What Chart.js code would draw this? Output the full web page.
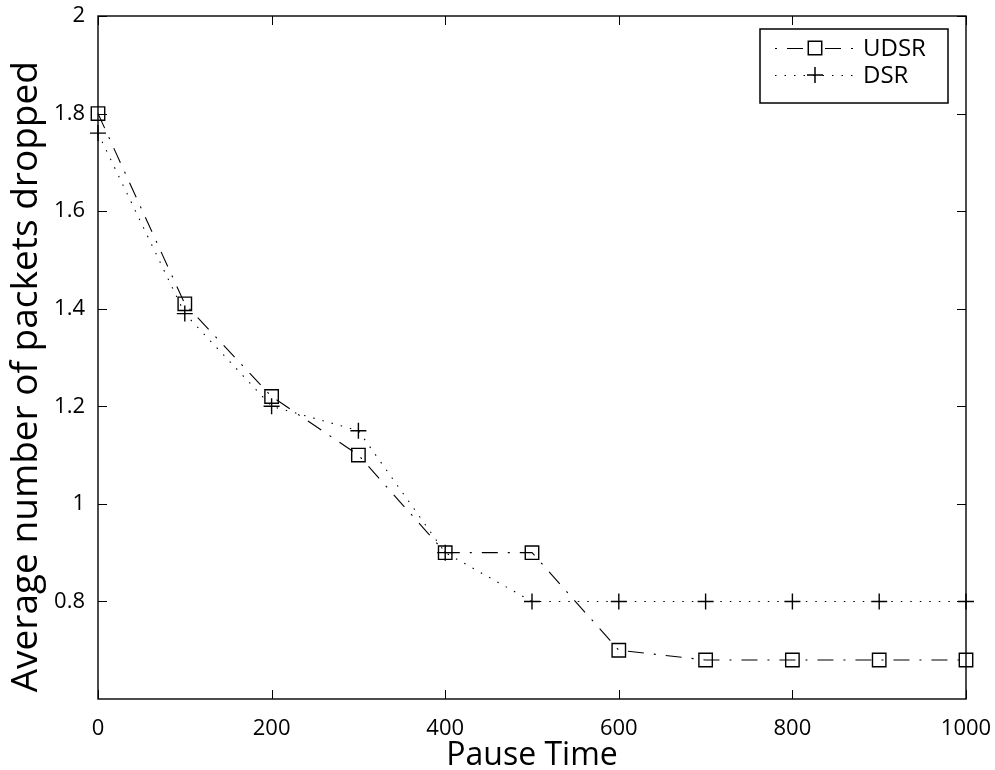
<!DOCTYPE html>
<html>
<head>
<meta charset="utf-8">
<script src="https://cdn.jsdelivr.net/npm/chart.js@4.4.1/dist/chart.umd.min.js"></script>
<style>
html,body{margin:0;padding:0;background:#fff;}
#wrap{width:995px;height:770px;position:relative;}
</style>
</head>
<body>
<div id="wrap"><canvas id="c" width="995" height="770"></canvas></div>
<script>
const pauseTimes = [0, 100, 200, 300, 400, 500, 600, 700, 800, 900, 1000];
const udsrValues = [1.80, 1.41, 1.22, 1.10, 0.90, 0.90, 0.70, 0.68, 0.68, 0.68, 0.68];
const dsrValues  = [1.76, 1.39, 1.20, 1.15, 0.90, 0.80, 0.80, 0.80, 0.80, 0.80, 0.80];
const seriesNames = ['UDSR', 'DSR'];
const xTicks = [0, 200, 400, 600, 800, 1000];
const yTicks = [0.8, 1, 1.2, 1.4, 1.6, 1.8, 2];

const FONT = '"Open Sans", "DejaVu Sans", sans-serif';

const boxTicks = {
  id: 'boxTicks',
  afterDraw(chart) {
    const {ctx, chartArea: a, scales: {x, y}} = chart;
    ctx.save();
    ctx.strokeStyle = '#000';
    ctx.lineWidth = 1.4;
    ctx.strokeRect(a.left, a.top, a.right - a.left, a.bottom - a.top);
    const L = 9;
    ctx.beginPath();
    xTicks.forEach(v => {
      const px = Math.round(x.getPixelForValue(v)) + 0.5;
      ctx.moveTo(px, a.bottom); ctx.lineTo(px, a.bottom - L);
      ctx.moveTo(px, a.top); ctx.lineTo(px, a.top + L);
    });
    yTicks.forEach(v => {
      const py = Math.round(y.getPixelForValue(v)) + 0.5;
      ctx.moveTo(a.left, py); ctx.lineTo(a.left + L, py);
      ctx.moveTo(a.right, py); ctx.lineTo(a.right - L, py);
    });
    ctx.lineWidth = 1;
    ctx.stroke();
    ctx.restore();
  }
};

const boxLegend = {
  id: 'boxLegend',
  afterDraw(chart) {
    const ctx = chart.ctx;
    const bx = 760, by = 29, bw = 188, bh = 74;
    ctx.save();
    ctx.fillStyle = '#fff';
    ctx.fillRect(bx, by, bw, bh);
    ctx.strokeStyle = '#000';
    ctx.lineWidth = 1.5;
    ctx.strokeRect(bx, by, bw, bh);
    chart.data.datasets.forEach((ds, i) => {
      const yy = by + 19 + i * 27;
      ctx.save();
      ctx.strokeStyle = '#000';
      ctx.lineWidth = 1;
      ctx.setLineDash(ds.borderDash);
      ctx.lineDashOffset = ds.legendDashOffset || 0;
      ctx.beginPath();
      ctx.moveTo(775, yy + 0.5); ctx.lineTo(855, yy + 0.5);
      ctx.stroke();
      ctx.restore();
      Chart.helpers.drawPoint(ctx, {
        pointStyle: ds.pointStyle, radius: ds.pointRadius, borderWidth: ds.pointBorderWidth
      }, 815, yy);
      ctx.fillStyle = '#000';
      ctx.font = '24px ' + FONT;
      ctx.textBaseline = 'middle';
      ctx.fillText(ds.label, 863, yy + 1);
    });
    ctx.restore();
  }
};

const chart = new Chart(document.getElementById('c'), {
  type: 'line',
  data: {
    datasets: [
      {
        label: seriesNames[0],
        data: pauseTimes.map((t, i) => ({x: t, y: udsrValues[i]})),
        borderColor: '#000', backgroundColor: '#fff', borderWidth: 1.1,
        borderDash: [16, 10, 2, 10], legendDashOffset: 26,
        pointStyle: 'rect', pointRadius: 9.5, pointBorderWidth: 1.4,
        pointBackgroundColor: 'rgba(0,0,0,0)', pointBorderColor: '#000',
        tension: 0, fill: false, clip: false
      },
      {
        label: seriesNames[1],
        data: pauseTimes.map((t, i) => ({x: t, y: dsrValues[i]})),
        borderColor: '#000', backgroundColor: '#fff', borderWidth: 1.1,
        borderDash: [1.5, 8], legendDashOffset: 0,
        pointStyle: 'cross', pointRadius: 8, pointBorderWidth: 1.4,
        pointBackgroundColor: 'rgba(0,0,0,0)', pointBorderColor: '#000',
        tension: 0, fill: false, clip: false
      }
    ]
  },
  options: {
    responsive: false,
    animation: false,
    devicePixelRatio: 1,
    layout: {padding: {left: 0, top: 16, right: 29, bottom: 0}},
    plugins: {legend: {display: false}, tooltip: {enabled: false}},
    elements: {point: {hoverRadius: 8}},
    scales: {
      x: {
        type: 'linear', min: 0, max: 1000,
        afterFit: s => { s.height = 71; s.paddingLeft = 0; s.paddingRight = 0; },
        afterBuildTicks: s => { s.ticks = xTicks.map(v => ({value: v})); },
        grid: {display: false, drawTicks: false},
        border: {display: false},
        ticks: {color: '#000', font: {family: FONT, size: 22}, padding: 17, maxRotation: 0,
                callback: v => String(v)},
        title: {display: true, text: 'Pause Time', color: '#000',
                font: {family: FONT, size: 32}, padding: {top: 0, bottom: -5}}
      },
      y: {
        type: 'linear', min: 0.6, max: 2,
        afterFit: s => { s.width = 98; s.paddingTop = 0; s.paddingBottom = 0; },
        afterBuildTicks: s => { s.ticks = [0.6].concat(yTicks).map(v => ({value: v})); },
        grid: {display: false, drawTicks: false},
        border: {display: false},
        ticks: {
          color: '#000', font: {family: FONT, size: 22}, padding: 13,
          callback: v => (Math.abs(v - 0.6) < 1e-9 ? '' : String(+v.toFixed(1)))
        },
        title: {display: true, text: 'Average number of packets dropped\u00a0\u00a0\u00a0\u00a0', color: '#000',
                font: {family: FONT, size: 37}, padding: {top: 4, bottom: 0}}
      }
    }
  },
  plugins: [boxTicks, boxLegend]
});
</script>
</body>
</html>
